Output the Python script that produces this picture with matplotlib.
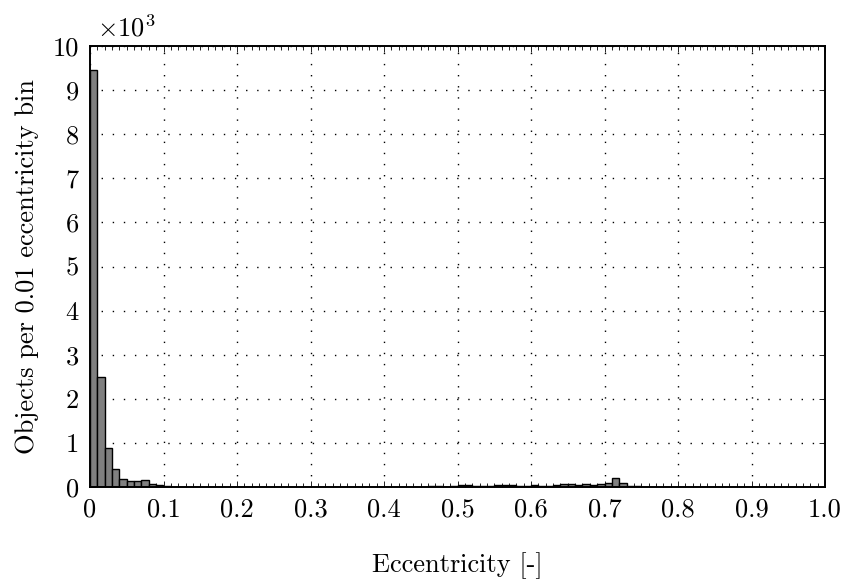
import matplotlib
matplotlib.use("Agg")
import matplotlib.pyplot as plt
import numpy as np

# Histogram of eccentricity, bin width 0.01 (counts per bin)
bin_left_edges = [i / 100 for i in range(100)]
counts = [
    9450, 2500, 880, 400, 190, 140, 125, 170, 70, 45,   # 0.00-0.09
    20, 10, 5, 5, 3, 2, 3, 8, 8, 3,                     # 0.10-0.19
    2, 2, 2, 2, 2, 2, 2, 2, 2, 2,                       # 0.20-0.29
    2, 2, 2, 2, 2, 2, 2, 2, 2, 2,                       # 0.30-0.39
    2, 2, 3, 3, 4, 5, 15, 25, 10, 30,                   # 0.40-0.49
    55, 45, 25, 25, 15, 45, 55, 45, 25, 25,             # 0.50-0.59
    45, 25, 25, 55, 75, 75, 45, 75, 45, 75,             # 0.60-0.69
    100, 200, 90, 25, 25, 0, 0, 0, 0, 0,                # 0.70-0.79
    0, 0, 0, 0, 0, 0, 0, 0, 0, 0,                       # 0.80-0.89
    0, 0, 0, 0, 0, 0, 0, 0, 0, 0,                       # 0.90-0.99
]
bin_width = 0.01

x_ticks = [0.0, 0.1, 0.2, 0.3, 0.4, 0.5, 0.6, 0.7, 0.8, 0.9, 1.0]
x_tick_labels = ["0", "0.1", "0.2", "0.3", "0.4", "0.5", "0.6", "0.7", "0.8", "0.9", "1.0"]
y_ticks = [0, 1000, 2000, 3000, 4000, 5000, 6000, 7000, 8000, 9000, 10000]
y_tick_labels = ["0", "1", "2", "3", "4", "5", "6", "7", "8", "9", "10"]

plt.rcParams["font.family"] = "serif"
plt.rcParams["font.serif"] = ["cmr10", "DejaVu Serif"]
plt.rcParams["mathtext.fontset"] = "cm"
plt.rcParams["axes.formatter.use_mathtext"] = True

FS = 19

fig = plt.figure(figsize=(8.49, 5.80), dpi=100)
ax = fig.add_axes([90 / 849, 1 - 487 / 580, (825 - 90) / 849, (487 - 46) / 580])

ax.bar(bin_left_edges, counts, width=bin_width, align="edge",
       color="#808080", edgecolor="black", linewidth=1.0, zorder=3)

ax.set_xlim(0, 1.0)
ax.set_ylim(0, 10000)
ax.set_xticks(x_ticks)
ax.set_xticklabels(x_tick_labels)
ax.set_yticks(y_ticks)
ax.set_yticklabels(y_tick_labels)
ax.set_xticks(bin_left_edges, minor=True)

ax.tick_params(axis="both", which="major", direction="in", length=4, width=0.6,
               top=True, right=True, labelsize=FS, pad=8)
ax.tick_params(axis="x", which="minor", direction="in", length=3, width=0.6,
               top=True, bottom=True)

ax.grid(True, which="major", linestyle=(0, (1, 7)), color="black", linewidth=1.0, zorder=0)
ax.set_axisbelow(True)

for s in ax.spines.values():
    s.set_linewidth(1.4)
    s.set_zorder(4)

ax.set_xlabel("Eccentricity [-]", fontsize=FS, labelpad=22)
ax.set_ylabel("Objects per 0.01 eccentricity bin", fontsize=FS, labelpad=10)

ax.text(0.01, 1.01, r"$\times 10^3$", transform=ax.transAxes, fontsize=FS,
        ha="left", va="bottom")

fig.savefig("out.png", dpi=100)
